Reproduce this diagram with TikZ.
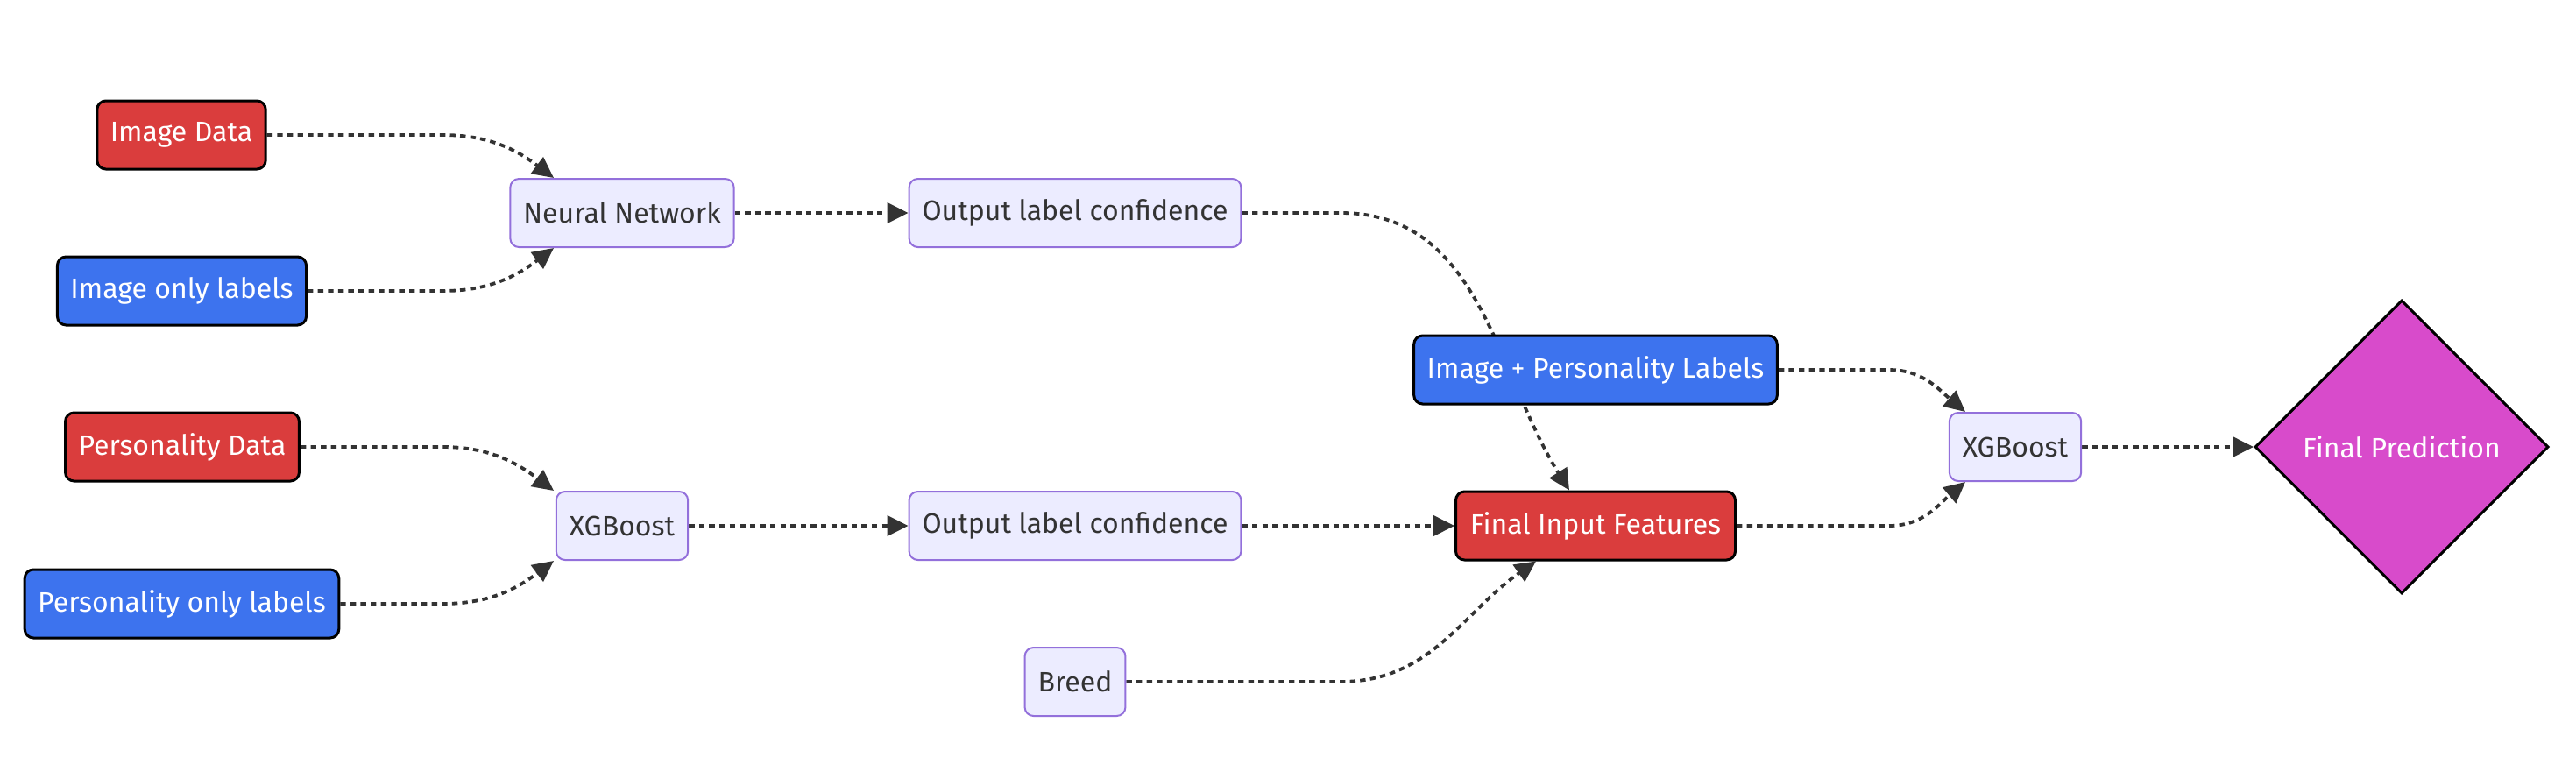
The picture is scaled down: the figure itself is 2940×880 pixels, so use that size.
\documentclass[tikz,border=0pt]{standalone}
\usepackage{fontspec}
\setmainfont{Fira Sans}
\usetikzlibrary{shapes.geometric,arrows.meta,backgrounds}
\definecolor{datared}{HTML}{DA3D3D}
\definecolor{labelblue}{HTML}{3D73EE}
\definecolor{predpink}{HTML}{D84BCB}
\definecolor{boxfill}{HTML}{ECECFF}
\definecolor{boxline}{HTML}{9370DB}
\definecolor{textgrey}{HTML}{333333}
\begin{document}
\begin{tikzpicture}[x=0.5pt,y=-0.5pt,font=\fontsize{16}{19}\selectfont]
        % Styles
        \tikzstyle{plain box}=[draw=boxline,fill=boxfill,text=textgrey,line width=1pt,rounded corners=5pt,minimum height=39pt,inner xsep=7.5pt]
        \tikzstyle{data box}=[plain box,draw=black,fill=datared,text=white,line width=1.5pt]
        \tikzstyle{label box}=[data box,fill=labelblue]
        \tikzstyle{flow}=[draw=textgrey,line width=1.9pt,dash pattern=on 3.2pt off 2.6pt,-{Triangle[length=12pt,width=11.5pt]}]
        \useasboundingbox (0,0) rectangle (2940,880);
        %inputs
        \node[data box,minimum width=95pt] (imgdata) at (207,154) {Image Data};
        \node[label box,minimum width=139.5pt] (imglab) at (207.5,332) {Image only labels};
        \node[data box,minimum width=132pt] (persdata) at (208,510) {Personality Data};
        \node[label box,minimum width=175.5pt] (perslab) at (207.5,689) {Personality only labels};
        %models
        \node[plain box,minimum width=126.5pt] (nn) at (710,243) {Neural Network};
        \node[plain box,minimum width=73.5pt] (xgbA) at (710,600) {XGBoost};
        \node[plain box,minimum width=189pt] (confA) at (1227,243) {Output label confidence};
        \node[plain box,minimum width=189pt] (confB) at (1227,600) {Output label confidence};
        \node[plain box,minimum width=56.5pt] (breed) at (1227,778) {Breed};
        \node[label box,minimum width=206.5pt] (bothlab) at (1821,422) {Image + Personality Labels};
        \node[data box,minimum width=159.5pt] (features) at (1821,600) {Final Input Features};
        \node[plain box,minimum width=73.5pt] (xgbB) at (2300,510) {XGBoost};
        \node[shape=diamond,draw=black,fill=predpink,text=white,line width=1.5pt,minimum width=167.5pt,minimum height=167.5pt,inner sep=0pt] (pred) at (2741,510) {Final Prediction};
        %bends and arrow ends
        \coordinate (bendA) at (505,0);
        \coordinate (tipA) at (632,0);
        \coordinate (bendB) at (1530,0);
        \coordinate (tipB) at (1791,0);
        \coordinate (tipC) at (1753,0);
        \coordinate (bendC) at (2156,0);
        \coordinate (tipD) at (2243,0);
        %edges
        \begin{scope}[on background layer]
            \fill[white] (0,0) rectangle (2940,880);
            \draw[flow] (imgdata.east) -- (imgdata.east -| bendA) to[out=0,in=143] (nn.north -| tipA);
            \draw[flow] (imglab.east) -- (imglab.east -| bendA) to[out=0,in=-143] (nn.south -| tipA);
            \draw[flow] (persdata.east) -- (persdata.east -| bendA) to[out=0,in=143] (xgbA.north -| tipA);
            \draw[flow] (perslab.east) -- (perslab.east -| bendA) to[out=0,in=-143] (xgbA.south -| tipA);
            \draw[flow] (nn) -- (confA);
            \draw[flow] (xgbA) -- (confB);
            \draw[flow] (confA.east) -- (confA.east -| bendB) to[out=0,in=122] (features.north -| tipB);
            \draw[flow] (confB) -- (features);
            \draw[flow] (breed.east) -- (breed.east -| bendB) to[out=0,in=-145] (features.south -| tipC);
            \draw[flow] (bothlab.east) -- (bothlab.east -| bendC) to[out=0,in=140] (xgbB.north -| tipD);
            \draw[flow] (features.east) -- (features.east -| bendC) to[out=0,in=-140] (xgbB.south -| tipD);
            \draw[flow] (xgbB) -- (pred);
        \end{scope}
\end{tikzpicture}
\end{document}
